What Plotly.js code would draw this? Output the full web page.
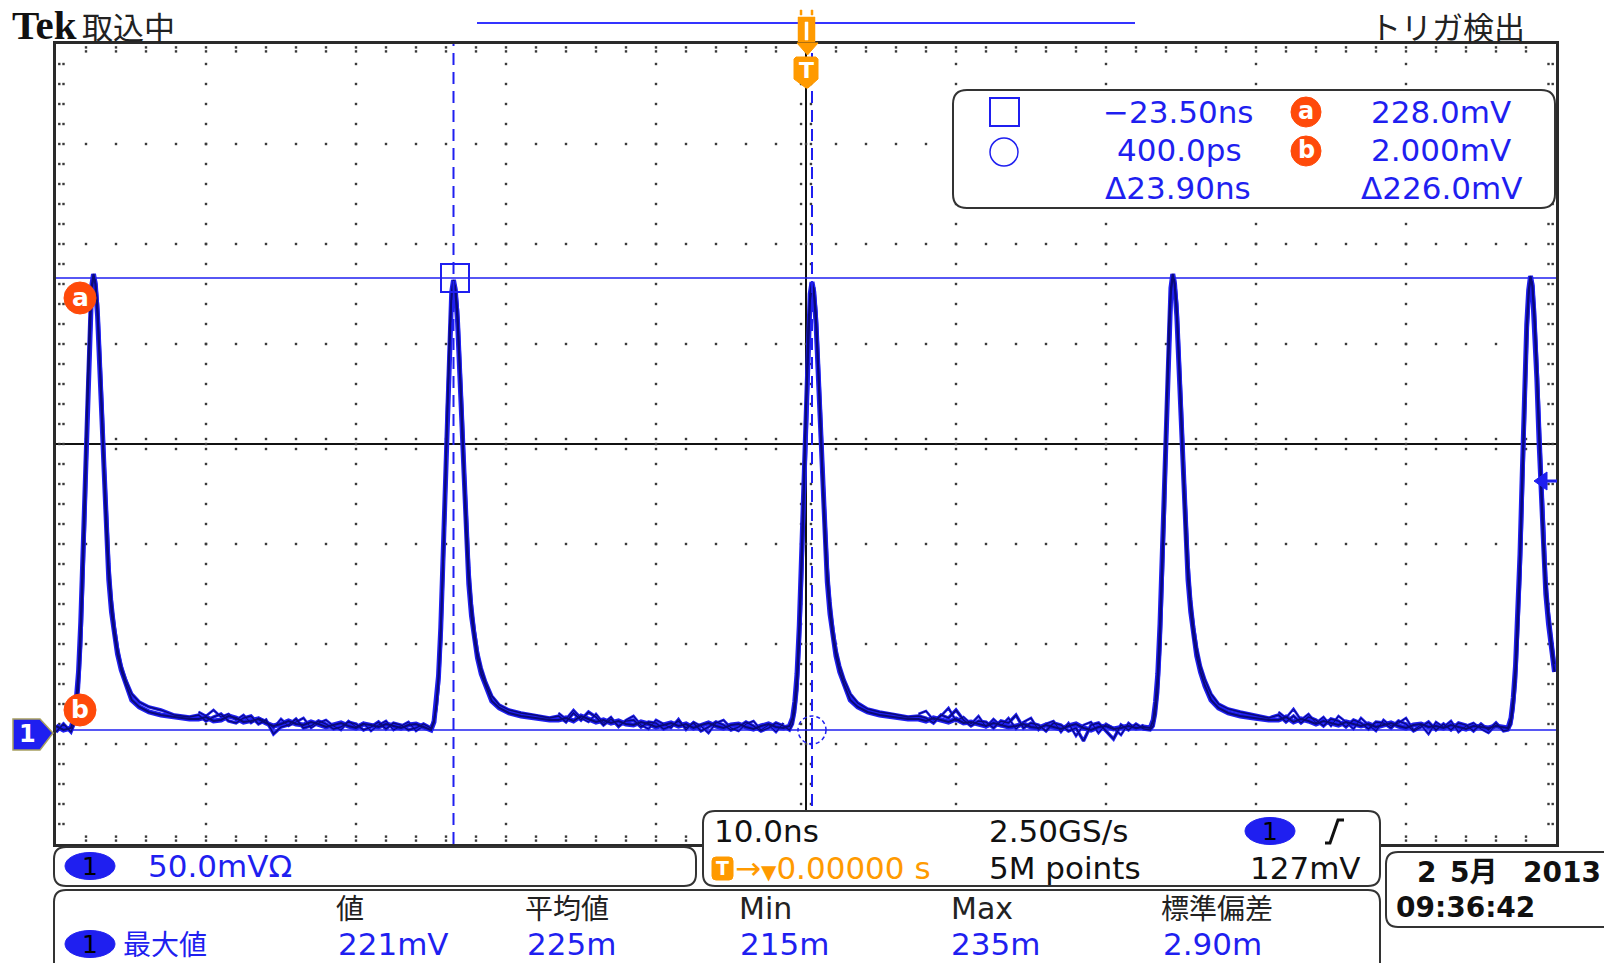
<!DOCTYPE html>
<html><head><meta charset="utf-8">
<script src="https://cdn.plot.ly/plotly-3.0.1.min.js"></script>
<style>html,body{margin:0;padding:0;background:#fff;overflow:hidden}</style>
</head><body><div id="chart" style="width:1604px;height:963px"></div>
<script>
// ---------- waveform data (time in ns, voltage in mV) ----------
const tPre=[-50,-49.5];
const aPre=[4,2];
const bPre=[1,5];

const tP1=[-49,-48.8,-48.65,-48.5,-48.35,-48.2,-48.05,-47.9,-47.75,-47.62,-47.5,-47.38,-47.23,-47.08,-46.93,-46.78,-46.63,-46.48,-46.3,-46.1,-45.9,-45.65,-45.35,-44.95,-44.45,-43.8,-43,-42.1,-41.1];
const aP1=[3,8,17,31,56,90,130,174,207,224,230,225,209,184,153,123,98,77,61,49,40,32,25,17,13.5,11,9.5,8.5,7.5];
const bP1=[1,5,12,23,44,76,115,160,198,220,228,227,215,193,164,134,107,85,67,53,43,34,27,20,16,13.5,12,9.5,8.5];

const tG1=[-40.5,-40,-39.5,-39,-38.5,-38,-37.5,-37,-36.5,-36,-35.5,-35,-34.5,-34,-33.5,-33,-32.5,-32,-31.5,-31,-30.5,-30,-29.5,-29,-28.5,-28,-27.5,-27,-26.5,-26,-25.5];
const aG1=[7.5,8.5,6.5,7,9,8,6,6.5,7.5,5.5,4,5,6.5,5,4.5,6,5,3.5,4.5,5.5,4,3,5,4.5,3.5,5,4,3,4.5,5,3.5];
const bG1=[9.5,6.5,8.5,10,6.5,5.5,8,9,5,7,0,3.5,4.5,7.5,3,4,6.5,5,2.5,3.5,6,5,2,3.5,6,2.5,5.5,4.5,2,3,5];
const cG1=[11,9,12,8.5,10,7,9.5,5.5,8,6.5,3,7.5,4,6,8,3,5.5,7,4,2,6.5,3.5,5.5,1.5,4.5,6.5,2,4,6,1.5,4];

const tP2=[-25,-24.8,-24.65,-24.5,-24.35,-24.2,-24.05,-23.9,-23.75,-23.62,-23.5,-23.38,-23.23,-23.08,-22.93,-22.78,-22.63,-22.48,-22.3,-22.1,-21.9,-21.65,-21.35,-20.95,-20.45,-19.8,-19,-18.1,-17.1];
const aP2=[2,6,15,29,53,86,126,170,203,221,227,222,206,181,150,120,95,75,59,47,38,30,24,16.5,13,10.5,9,8,7];
const bP2=[3,7,13,25,47,78,118,163,199,219,225,224,212,190,161,131,104,83,65,51,41,33,26,19,14.5,12,10.5,9.5,8];

const tG2=[-16.5,-16,-15.5,-15,-14.5,-14,-13.5,-13,-12.5,-12,-11.5,-11,-10.5,-10,-9.5,-9,-8.5,-8,-7.5,-7,-6.5,-6,-5.5,-5,-4.5,-4,-3.5,-3,-2.5,-2,-1.5];
const aG2=[7,8,6.5,9,7.5,6,7,5.5,6.5,5,4.5,6,5,3.5,4.5,5.5,4,5,3,4.5,5.5,4,3,4.5,5,3.5,2.5,4,5,3.5,3];
const bG2=[9,6,10.5,7,11,8.5,4.5,7.5,4,6.5,7,3.5,6,5.5,2.5,4,6.5,3,5.5,1.5,3.5,6,4.5,2,3.5,6,4,1.5,3,5.5,4];
const cG2=[10.5,7.5,12,8,6,10,5.5,8.5,3.5,7,9,4.5,2.5,7,5,3,7.5,2,6,4,0.5,5.5,7,3,1.5,5,6.5,2,4.5,1,5.5];

const tP3=[-1.1,-0.9,-0.75,-0.6,-0.45,-0.3,-0.15,0,0.15,0.28,0.4,0.52,0.67,0.82,0.97,1.12,1.27,1.42,1.6,1.8,2,2.25,2.55,2.95,3.45,4.1,4.9,5.8,6.8];
const aP3=[4,8,16,30,54,88,127,171,203,220,226,221,205,180,150,121,96,76,60,48,39,31,24.5,17,13.5,11,9.5,8.5,7.5];
const bP3=[2,5,11,22,43,74,112,157,194,216,224,223,211,189,160,130,104,83,66,52,42,34,27,20,15.5,12.5,11,10,8.5];

const tG3=[7.5,8,8.5,9,9.5,10,10.5,11,11.5,12,12.5,13,13.5,14,14.5,15,15.5,16,16.5,17,17.5,18,18.5,19,19.5,20,20.5,21,21.5,22,22.5];
const aG3=[7.5,6.5,8,7,6,7.5,5.5,6,5,4,5.5,4.5,3.5,4,5,3.5,3,4.5,3.5,2.5,4,5,3,2,3.5,4,2.5,3,4,3,3.5];
const bG3=[9,8,5.5,9.5,8,12,7,4,6.5,6,3,6.5,5.5,9.5,3,5.5,4.5,1.5,5.5,4.5,1.5,3,-3.5,4.5,5.5,1.5,-2.5,4.5,2,5,2.5];
const cG3=[10,11.5,7,9,13,6.5,8.5,5,9,3.5,7.5,4,8,2.5,6,8,2,5,6.5,1,5.5,-1,4.5,6,0.5,5,3,-0.5,5.5,2.5,4.5];

const tP4=[22.95,23.15,23.3,23.45,23.6,23.75,23.9,24.05,24.2,24.33,24.45,24.57,24.72,24.87,25.02,25.17,25.32,25.47,25.65,25.85,26.05,26.3,26.6,27,27.5,28.15,28.95,29.85,30.85];
const aP4=[3,7,16,30,55,89,129,173,206,223,230,225,209,184,153,123,97,77,61,48,39,31,24,17,13,10.5,9,8,7];
const bP4=[2,4,10,21,42,73,112,158,197,219,228,227,215,193,164,134,107,85,67,53,43,34,27,20,15,12.5,11,9.5,8];

const tG4=[31.5,32,32.5,33,33.5,34,34.5,35,35.5,36,36.5,37,37.5,38,38.5,39,39.5,40,40.5,41,41.5,42,42.5,43,43.5,44,44.5,45,45.5,46,46.5];
const aG4=[7,8.5,6,7.5,6.5,5,6.5,5.5,4.5,6,5,4,5,3.5,4.5,5.5,4,3,4.5,5,3.5,4,3,4.5,3.5,2.5,4,3.5,3,4,3.5];
const bG4=[9.5,6,9,5.5,8.5,7,4,7.5,6.5,3.5,7,5.5,2.5,6,5.5,3,6.5,5,1.5,3.5,6,2,5,2,5.5,4.5,1.5,5,2,5.5,1.5];
const cG4=[11,8,12.5,7,10,5.5,8.5,4,9,6,2.5,8,4.5,1.5,7,4,5.5,8,2,4.5,0,6,3.5,6.5,1,4,5.5,2.5,0.5,4.5,3];

const tP5=[46.8,47,47.15,47.3,47.45,47.6,47.75,47.9,48.05,48.18,48.3,48.42,48.57,48.72,48.87,49.02,49.17,49.32,49.5,49.7,49.9];
const aP5=[3,8,18,34,58,90,130,172,205,222,229,224,205,178,146,116,90,70,55,42,31];
const bP5=[2,5,13,26,48,78,117,160,197,219,227,226,212,187,157,127,100,78,61,47,35];

const timeNs=[].concat(tPre,tP1,tG1,tP2,tG2,tP3,tG3,tP4,tG4,tP5);
const acqA=[].concat(aPre,aP1,aG1,aP2,aG2,aP3,aG3,aP4,aG4,aP5);
const acqB=[].concat(bPre,bP1,bG1,bP2,bG2,bP3,bG3,bP4,bG4,bP5);
// third acquisition only visible in the baseline gaps (null separates the gaps)
const timeC=[].concat(tG1,[null],tG2,[null],tG3,[null],tG4);
const acqC=[].concat(cG1,[null],cG2,[null],cG3,[null],cG4);

// cursor / readout values
const cursorT=[-23.5,0.4];      // ns
const cursorV=[228,2];          // mV
const xRange=[-50,50], yRange=[-55,345];

// ---------- geometry helpers (screen layout) ----------
const L=56,R=1556,T=44,B=844;
const X=px=>(px-L)/(R-L);
const Y=py=>(B-py)/(B-T);
const BLUE='#1f1ff0', NAVY='#0a0a78', ORANGE='#ff9a00', RED='#ff4a0a', FRAME='#2a2a2a';

function rrect(x0,y0,x1,y1,r,fill,line,lw){
  const p=`M ${X(x0+r)} ${Y(y0)} L ${X(x1-r)} ${Y(y0)} Q ${X(x1)} ${Y(y0)} ${X(x1)} ${Y(y0+r)} L ${X(x1)} ${Y(y1-r)} Q ${X(x1)} ${Y(y1)} ${X(x1-r)} ${Y(y1)} L ${X(x0+r)} ${Y(y1)} Q ${X(x0)} ${Y(y1)} ${X(x0)} ${Y(y1-r)} L ${X(x0)} ${Y(y0+r)} Q ${X(x0)} ${Y(y0)} ${X(x0+r)} ${Y(y0)} Z`;
  return {type:'path',xref:'paper',yref:'paper',path:p,fillcolor:fill,line:{color:line,width:lw},layer:'above'};
}
function poly(pts,fill,line,lw,closed=true){
  const p=pts.map((q,i)=>(i?'L ':'M ')+X(q[0])+' '+Y(q[1])).join(' ')+(closed?' Z':'');
  return {type:'path',xref:'paper',yref:'paper',path:p,fillcolor:fill,line:{color:line,width:lw},layer:'above'};
}
function ell(cx,cy,rx,ry,fill,line,lw,dash){
  return {type:'circle',xref:'paper',yref:'paper',x0:X(cx-rx),x1:X(cx+rx),y0:Y(cy+ry),y1:Y(cy-ry),
    fillcolor:fill,line:{color:line,width:lw,dash:dash||'solid'},layer:'above'};
}
function box(x0,y0,x1,y1,fill,line,lw){
  return {type:'rect',xref:'paper',yref:'paper',x0:X(x0),x1:X(x1),y0:Y(y1),y1:Y(y0),
    fillcolor:fill,line:{color:line,width:lw},layer:'above'};
}
function txt(s,px,py,size,color,anchor,family){
  return {text:s,x:X(px),y:Y(py),xref:'paper',yref:'paper',showarrow:false,xanchor:anchor||'left',yanchor:'middle',
    borderpad:0,font:{size:size,color:color,family:family||'DejaVu Sans, Noto Sans CJK JP'}};
}

// ---------- graticule dots ----------
const gx=[],gy=[];
for(const xm of [-40,-30,-20,-10,10,20,30,40]) for(let v=-45;v<=335;v+=10){gx.push(xm);gy.push(v);}
for(const ym of [-5,45,95,195,245,295]) for(let t=-48;t<=48;t+=2){gx.push(t);gy.push(ym);}
for(let t=-48;t<=48;t+=2){ if(t!==0){gx.push(t,t);gy.push(147.5,142.5);} }
for(let v=-45;v<=335;v+=10){ if(v!==145){gx.push(-0.33,0.33);gy.push(v,v);} }
for(let t=-48;t<=48;t+=2){gx.push(t,t,t,t);gy.push(343.3,341.3,-53.3,-51.3);}
for(let v=-45;v<=335;v+=10){gx.push(-49.78,-49.5,49.78,49.5);gy.push(v,v,v,v);}

const traces=[
  {x:gx,y:gy,mode:'markers',type:'scatter',marker:{symbol:'square',size:2.4,color:'#3a3a3a'},hoverinfo:'skip'},
  {x:timeC,y:acqC,mode:'lines',type:'scatter',connectgaps:false,line:{color:BLUE,width:2.6},hoverinfo:'skip'},
  {x:timeNs,y:acqB,mode:'lines',type:'scatter',line:{color:BLUE,width:3.4},hoverinfo:'skip'},
  {x:timeNs,y:acqA,mode:'lines',type:'scatter',line:{color:BLUE,width:5},hoverinfo:'skip'},
  {x:timeC,y:acqC,mode:'lines',type:'scatter',connectgaps:false,line:{color:NAVY,width:1},hoverinfo:'skip'},
  {x:timeNs,y:acqB,mode:'lines',type:'scatter',line:{color:NAVY,width:1.3},hoverinfo:'skip'},
  {x:timeNs,y:acqA,mode:'lines',type:'scatter',line:{color:NAVY,width:2},hoverinfo:'skip'}
];

const shapes=[
  // center cross
  {type:'line',xref:'x',yref:'paper',x0:0,x1:0,y0:0,y1:1,line:{color:'#111',width:2},layer:'below'},
  {type:'line',xref:'paper',yref:'y',x0:0,x1:1,y0:145,y1:145,line:{color:'#111',width:2},layer:'below'},
  // voltage cursors
  {type:'line',xref:'paper',yref:'y',x0:0,x1:1,y0:cursorV[0],y1:cursorV[0],line:{color:BLUE,width:1.6},layer:'below'},
  {type:'line',xref:'paper',yref:'y',x0:0,x1:1,y0:cursorV[1],y1:cursorV[1],line:{color:BLUE,width:1.6},layer:'below'},
  // time cursors
  {type:'line',xref:'x',yref:'paper',x0:cursorT[0],x1:cursorT[0],y0:0,y1:1,line:{color:BLUE,width:2,dash:'12px,7px'},layer:'above'},
  {type:'line',xref:'x',yref:'paper',x0:cursorT[1],x1:cursorT[1],y0:0,y1:1,line:{color:BLUE,width:2,dash:'12px,7px'},layer:'above'},
  // cursor markers on the trace
  box(441,264,469,292,'rgba(0,0,0,0)',BLUE,2),
  ell(812,730,14,14,'rgba(0,0,0,0)',BLUE,1.5,'4px,3px'),
  // a / b markers at left
  ell(80,298,16,16,RED,RED,1),
  ell(80,710,16,16,RED,RED,1),
  // ground marker
  poly([[13,719],[40,719],[53,733],[40,750],[13,750]],BLUE,'#a8a060',1.5),
  // trigger level arrow (right)
  poly([[1534,481],[1547,472],[1547,490]],BLUE,BLUE,1),
  {type:'line',xref:'paper',yref:'paper',x0:X(1546),x1:X(1557),y0:Y(481),y1:Y(481),line:{color:BLUE,width:3},layer:'above'},
  // record view bar
  {type:'line',xref:'paper',yref:'paper',x0:X(477),x1:X(1135),y0:Y(23),y1:Y(23),line:{color:'#3434ff',width:2},layer:'above'},
  // small trigger icon on record bar
  box(798,17,815,42,ORANGE,ORANGE,0.5),
  box(800,10,802,15,ORANGE,ORANGE,0.5),
  box(811,10,813,15,ORANGE,ORANGE,0.5),
  box(805,22,808,40,'#ffffff','#ffffff',0.5),
  // trigger position triangle + T badge
  poly([[797,43],[818,43],[807.5,55]],ORANGE,ORANGE,1),
  poly([[794,59],[796,57],[816,57],[818,59],[818,79],[808,88],[806,88],[794,79]],ORANGE,ORANGE,1),
  // cursor readout box
  rrect(953,90,1555,208,14,'#ffffff','#333',2),
  box(990,98,1019,126,'rgba(0,0,0,0)',BLUE,2),
  ell(1004,152,14,14,'rgba(0,0,0,0)',BLUE,1.5),
  ell(1306,112,15,15,RED,RED,1),
  ell(1306,151,15,15,RED,RED,1),
  // channel box
  rrect(54,847,696,886,12,'#ffffff','#333',2),
  ell(90,866,25,13.5,BLUE,BLUE,1),
  // horizontal/trigger box
  rrect(703,811,1380,886,12,'#ffffff','#333',2),
  ell(1270,831,25,13.5,BLUE,BLUE,1),
  poly([[1325,843],[1330,843],[1338,820],[1344,820]],'rgba(0,0,0,0)','#111',3,false),
  rrect(712,857,733,880,4,ORANGE,ORANGE,1),
  // date box
  rrect(1386,852,1630,927,12,'#ffffff','#333',2),
  // measurement box
  rrect(54,890,1380,985,12,'#ffffff','#333',2),
  ell(90,944,25,13.5,BLUE,BLUE,1)
];

const annotations=[
  txt('<b>Tek</b>',11,25,41,'#111','left','Liberation Serif, DejaVu Serif'),
  txt('取込中',81,25,31,'#222','left','Noto Sans CJK JP'),
  txt('トリガ検出',1369,25,31,'#222','left','Noto Sans CJK JP'),
  txt('<b>T</b>',806,71,22,'#ffffff','center'),
  // cursor readout
  txt('−23.50ns',1178,112,31,BLUE,'center'),
  txt('400.0ps',1179,150,31,BLUE,'center'),
  txt('Δ23.90ns',1178,188,31,BLUE,'center'),
  txt('228.0mV',1441,112,31,BLUE,'center'),
  txt('2.000mV',1441,150,31,BLUE,'center'),
  txt('Δ226.0mV',1441,188,31,BLUE,'center'),
  txt('<b>a</b>',1306,111,24,'#ffffff','center'),
  txt('<b>b</b>',1306,150,24,'#ffffff','center'),
  // left markers
  txt('<b>a</b>',80,297,25,'#ffffff','center'),
  txt('<b>b</b>',80,709,25,'#ffffff','center'),
  txt('<b>1</b>',27,734,24,'#ffffff','center'),
  // channel box
  txt('1',90,866,25,'#000','center'),
  txt('50.0mVΩ',147,866,31,BLUE,'left'),
  // horizontal / trigger box
  txt('10.0ns',713,831,31,'#111','left'),
  txt('2.50GS/s',988,831,31,'#111','left'),
  txt('1',1270,831,25,'#000','center'),
  txt('<b>T</b>',722.5,868,19,'#ffffff','center'),
  txt('→<span style="font-size:20px">▼</span>0.00000 s',734,868,31,ORANGE,'left'),
  txt('5M points',988,868,31,'#111','left'),
  txt('127mV',1362,868,31,'#111','right'),
  // date box
  txt('<b>2</b>',1416,873,28,'#111','left'),
  txt('<b>5月</b>',1449,873,28,'#111','left'),
  txt('<b>2013</b>',1522,873,28,'#111','left'),
  txt('<b>09:36:42</b>',1395,907,28,'#111','left'),
  // measurement box
  txt('値',335,907,28,'#222','left','Noto Sans CJK JP'),
  txt('平均値',524,907,28,'#222','left','Noto Sans CJK JP'),
  txt('Min',738,908,30,'#222','left'),
  txt('Max',950,908,30,'#222','left'),
  txt('標準偏差',1160,907,28,'#222','left','Noto Sans CJK JP'),
  txt('1',90,944,25,'#000','center'),
  txt('最大値',122,943,28,BLUE,'left','Noto Sans CJK JP'),
  txt('221mV',337,944,31,BLUE,'left'),
  txt('225m',526,944,31,BLUE,'left'),
  txt('215m',739,944,31,BLUE,'left'),
  txt('235m',950,944,31,BLUE,'left'),
  txt('2.90m',1162,944,31,BLUE,'left')
];

const axisCommon={showgrid:false,zeroline:false,showticklabels:false,ticks:'',showline:true,mirror:true,
  linecolor:FRAME,linewidth:3,fixedrange:true};
const layout={
  width:1604,height:963,margin:{l:56,r:48,t:44,b:119,pad:0},
  paper_bgcolor:'#ffffff',plot_bgcolor:'#ffffff',showlegend:false,
  xaxis:Object.assign({range:xRange},axisCommon),
  yaxis:Object.assign({range:yRange},axisCommon),
  shapes:shapes,annotations:annotations
};
Plotly.newPlot('chart',traces,layout,{displayModeBar:false,staticPlot:true});
</script></body></html>
